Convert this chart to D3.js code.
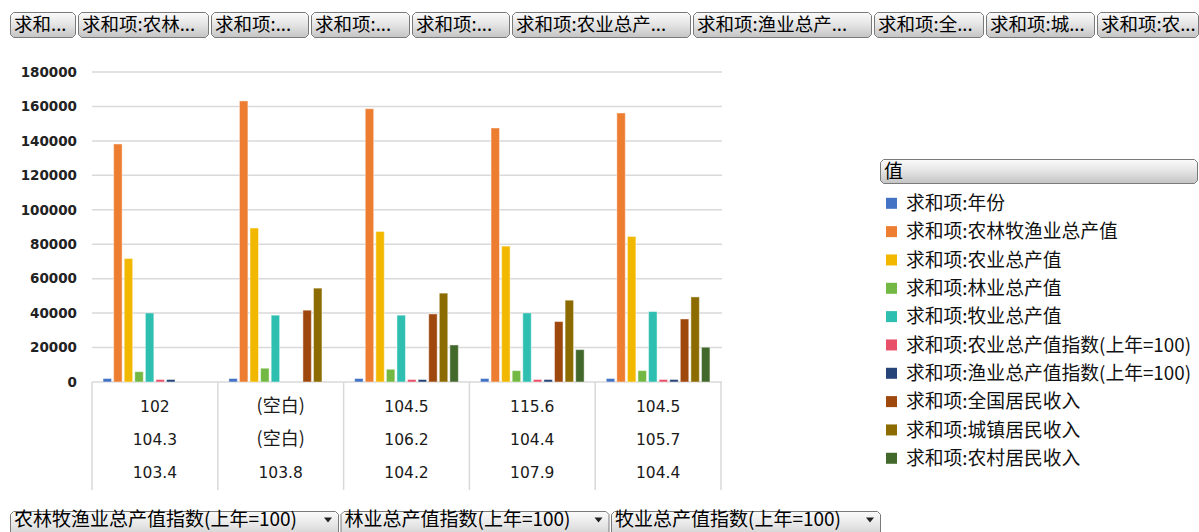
<!DOCTYPE html>
<html>
<head>
<meta charset="utf-8">
<script src="https://cdn.jsdelivr.net/npm/d3@7"></script>
<style>
  html, body { margin: 0; padding: 0; background: #fff; }
  svg { display: block; }
</style>
</head>
<body>
<svg id="chart" width="1199" height="532"></svg>
<script>
// x-axis rows (three index fields stacked under each group)
const agriTotalIndex = ['102', '(空白)', '104.5', '115.6', '104.5'];
const forestryIndex = ['104.3', '(空白)', '106.2', '104.4', '105.7'];
const husbandryIndex = ['103.4', '103.8', '104.2', '107.9', '104.4'];

const seriesNames = [
    '求和项:年份',
    '求和项:农林牧渔业总产值',
    '求和项:农业总产值',
    '求和项:林业总产值',
    '求和项:牧业总产值',
    '求和项:农业总产值指数(上年=100)',
    '求和项:渔业总产值指数(上年=100)',
    '求和项:全国居民收入',
    '求和项:城镇居民收入',
    '求和项:农村居民收入'
];
const seriesColors = ['#4472c4', '#ed7d31', '#f2b800', '#72b843', '#2ebfb1',
    '#e8506a', '#264478', '#9e480e', '#8c6c00', '#43682b'];

// series values, one per group (null = no value)
const years = [2020, 2024, 2023, 2021, 2022];
const totalOutput = [138200, 163200, 158700, 147500, 156200];
const agriOutput = [71700, 89400, 87400, 78900, 84500];
const forestryOutput = [6000, 8000, 7400, 6600, 6600];
const husbandryOutput = [40100, 38800, 38800, 40100, 40900];
const agriIndex = [103.1, null, 104.1, 102.3, 104.1];
const fisheryIndex = [102.9, null, 103.8, 104.2, 103.3];
const nationalIncome = [null, 41700, 39500, 35100, 36600];
const urbanIncome = [null, 54500, 51600, 47500, 49400];
const ruralIncome = [null, null, 21500, 18800, 20200];

const yTicks = [0, 20000, 40000, 60000, 80000, 100000, 120000, 140000, 160000, 180000];

const topButtons = ['求和...', '求和项:农林...', '求和项:...', '求和项:...', '求和项:...',
    '求和项:农业总产...', '求和项:渔业总产...', '求和项:全...', '求和项:城...', '求和项:农...'];
const bottomButtons = ['农林牧渔业总产值指数(上年=100)', '林业总产值指数(上年=100)', '牧业总产值指数(上年=100)'];

const seriesValues = [years, totalOutput, agriOutput, forestryOutput, husbandryOutput,
    agriIndex, fisheryIndex, nationalIncome, urbanIncome, ruralIncome];

// layout
const CJK = '"Noto Sans CJK SC", sans-serif';
const LATIN = '"DejaVu Sans", sans-serif';
const topButtonWidths = [65, 130, 97, 98, 97, 178, 178, 109, 108, 101];
const bottomButtonWidths = [328, 268, 269];

const svg = d3.select('#chart');
const plot = { left: 92, right: 721, top: 72, bottom: 382 };

// gradient for the field buttons
const defs = svg.append('defs');
const grad = defs.append('linearGradient').attr('id', 'btn').attr('x1', 0).attr('y1', 0).attr('x2', 0).attr('y2', 1);
grad.append('stop').attr('offset', '0%').attr('stop-color', '#fbfbfb');
grad.append('stop').attr('offset', '45%').attr('stop-color', '#e6e6e6');
grad.append('stop').attr('offset', '100%').attr('stop-color', '#c4c4c4');

function buttonPath(x, y, w, h, c) {
    return `M${x + c},${y}H${x + w - c}L${x + w},${y + c}V${y + h - c}L${x + w - c},${y + h}H${x + c}L${x},${y + h - c}V${y + c}Z`;
}

function drawButtons(labels, widths, x0, y, h, textY, fontSize, pad, gap, arrow) {
    let x = x0;
    labels.forEach((label, i) => {
        const w = widths[i];
        const g = svg.append('g');
        g.append('path')
            .attr('d', buttonPath(x + 0.5, y + 0.5, w, h, 3))
            .attr('fill', 'url(#btn)')
            .attr('stroke', '#7a7a7a');
        g.append('text')
            .attr('x', x + pad)
            .attr('y', textY)
            .attr('dy', '0.36em')
            .style('font-family', CJK)
            .attr('font-size', fontSize)
            .attr('fill', '#000')
            .text(label);
        if (arrow) {
            const ax = x + w - 10, ay = textY;
            g.append('path')
                .attr('d', `M${ax - 4},${ay - 2}L${ax + 4},${ay - 2}L${ax},${ay + 3}Z`)
                .attr('fill', '#222');
        }
        x += w + gap;
    });
}

const x0 = d3.scaleBand()
    .domain(d3.range(agriTotalIndex.length))
    .range([plot.left, plot.right]);

const x1 = d3.scaleBand()
    .domain(d3.range(seriesNames.length))
    .range([10, x0.bandwidth() - 10])
    .paddingInner(0.2)
    .paddingOuter(0.1);

const y = d3.scaleLinear()
    .domain([0, 180000])
    .range([plot.bottom, plot.top]);

// gridlines
svg.append('g')
    .selectAll('line')
    .data(yTicks)
    .join('line')
    .attr('x1', plot.left)
    .attr('x2', plot.right + 1)
    .attr('y1', d => y(d))
    .attr('y2', d => y(d))
    .attr('stroke', '#d9d9d9')
    .attr('stroke-width', 1.5);

// y axis labels
const yAxis = svg.append('g')
    .attr('transform', `translate(${plot.left - 15},0)`)
    .call(d3.axisLeft(y).tickValues(yTicks).tickSize(0).tickPadding(0).tickFormat(d3.format('d')));
yAxis.select('.domain').remove();
yAxis.selectAll('text')
    .style('font-family', LATIN)
    .attr('font-weight', 'bold')
    .attr('font-size', 13.5)
    .attr('fill', '#222');

// bars
const groups = svg.append('g')
    .selectAll('g')
    .data(agriTotalIndex.map((d, i) => i))
    .join('g')
    .attr('transform', i => `translate(${x0(i)},0)`);

groups.selectAll('rect')
    .data(i => seriesValues.map((vals, s) => ({ s, v: vals[i] })).filter(d => d.v !== null))
    .join('rect')
    .attr('x', d => x1(d.s))
    .attr('width', x1.bandwidth())
    .attr('y', d => Math.min(y(d.v), plot.bottom - 2.5))
    .attr('height', d => Math.max(plot.bottom - y(d.v), 2.5))
    .attr('fill', d => seriesColors[d.s])
    .attr('stroke', 'rgba(255,255,255,0.45)')
    .attr('stroke-width', 1);

// category table under the plot
const table = svg.append('g');
table.selectAll('line')
    .data(d3.range(agriTotalIndex.length + 1))
    .join('line')
    .attr('x1', i => i < agriTotalIndex.length ? x0(i) : plot.right)
    .attr('x2', i => i < agriTotalIndex.length ? x0(i) : plot.right)
    .attr('y1', plot.bottom)
    .attr('y2', 490)
    .attr('stroke', '#d9d9d9')
    .attr('stroke-width', 1.5);

[agriTotalIndex, forestryIndex, husbandryIndex].forEach((row, r) => {
    table.append('g')
        .selectAll('text')
        .data(row)
        .join('text')
        .attr('x', (d, i) => x0(i) + x0.bandwidth() / 2)
        .attr('y', 406 + r * 33)
        .attr('dy', '0.36em')
        .attr('text-anchor', 'middle')
        .style('font-family', d => d.startsWith('(') ? CJK : LATIN)
        .attr('font-size', d => d.startsWith('(') ? 18 : 15.5)
        .attr('fill', '#1a1a1a')
        .text(d => d);
});

// legend
const legend = svg.append('g');
legend.append('path')
    .attr('d', buttonPath(880.5, 159.5, 317, 24, 3))
    .attr('fill', 'url(#btn)')
    .attr('stroke', '#7a7a7a');
legend.append('text')
    .attr('x', 884)
    .attr('y', 171.5)
    .attr('dy', '0.36em')
    .style('font-family', CJK)
    .attr('font-size', 19)
    .attr('fill', '#000')
    .text('值');

const items = legend.selectAll('g.item')
    .data(seriesNames)
    .join('g')
    .attr('class', 'item')
    .attr('transform', (d, i) => `translate(886,${203.3 + i * 28.33})`);
items.append('rect')
    .attr('x', 0)
    .attr('y', -5.5)
    .attr('width', 11)
    .attr('height', 11)
    .attr('fill', (d, i) => seriesColors[i]);
items.append('text')
    .attr('x', 20)
    .attr('dy', '0.36em')
    .style('font-family', CJK)
    .attr('font-size', 18.8)
    .attr('fill', '#111')
    .text(d => d);

// field buttons
drawButtons(topButtons, topButtonWidths, 10, 12, 25, 24.5, 18.5, 4, 3, false);
drawButtons(bottomButtons, bottomButtonWidths, 10, 511, 30, 519.5, 19, 4, 2.5, true);
</script>
</body>
</html>
